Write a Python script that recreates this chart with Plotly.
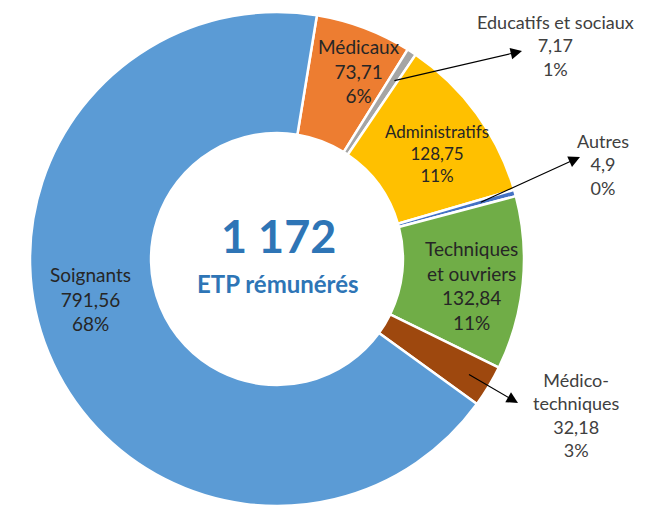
import math
import plotly.graph_objects as go

# ---- data ----
categories = ["Médicaux", "Educatifs et sociaux", "Administratifs", "Autres",
              "Techniques et ouvriers", "Médico-techniques", "Soignants"]
label_names = ["Médicaux", "Educatifs et sociaux", "Administratifs", "Autres",
               "Techniques<br>et ouvriers", "Médico-<br>techniques", "Soignants"]
values = [73.71, 7.17, 128.75, 4.9, 132.84, 32.18, 791.56]
total_label = "1 172"
center_sub = "ETP rémunérés"

colors = ["#ED7D31", "#A5A5A5", "#FFC000", "#4472C4", "#70AD47", "#9E480E", "#5B9BD5"]

# ---- layout constants ----
W, H = 653, 506
CX, CY, R = 277, 259, 247
HOLE = 0.51
ROT = 9.3
FONT = "Lato"


def px(x, y):
    return x / W, 1 - y / H


total = sum(values)
pcts = [v / total for v in values]


def fmt_num(v):
    return ("%g" % v).replace(".", ",")


def fmt_pct(p):
    return "%d%%" % round(p * 100)


fig = go.Figure(go.Pie(
    labels=categories, values=values, sort=False, direction="clockwise",
    rotation=ROT, hole=HOLE,
    marker=dict(colors=colors, line=dict(color="white", width=2.5)),
    textinfo="none", hoverinfo="label+value+percent",
    domain=dict(x=[(CX - R) / W, (CX + R) / W], y=[1 - (CY + R) / H, 1 - (CY - R) / H]),
    showlegend=False,
))

# label anchor positions (pixels) and font sizes
label_pos = {
    "Médicaux": (359, 71, 19, "#262626"),
    "Educatifs et sociaux": (555, 45, 18, "#404040"),
    "Administratifs": (437, 153, 17, "#262626"),
    "Autres": (603, 164, 18, "#404040"),
    "Techniques et ouvriers": (471, 285, 19, "#262626"),
    "Médico-techniques": (576, 415, 18, "#404040"),
    "Soignants": (90, 299, 19, "#262626"),
}

annotations = []
for cat, name, v, p in zip(categories, label_names, values, pcts):
    x, y, size, col = label_pos[cat]
    ax_, ay_ = px(x, y)
    annotations.append(dict(
        x=ax_, y=ay_, xref="paper", yref="paper", showarrow=False,
        text=f"{name}<br>{fmt_num(v)}<br>{fmt_pct(p)}",
        font=dict(family=FONT, size=size, color=col), align="center",
        xanchor="center", yanchor="middle",
    ))

# arrows from small slices to their outside labels
arrow_heads = {
    "Educatifs et sociaux": ((522, 51), 0.86),
    "Autres": ((580, 157), 0.85),
    "Médico-techniques": ((518, 403), 0.90),
}
cum = 0.0
for cat, v in zip(categories, values):
    mid = ROT + (cum + v / 2) / total * 360
    cum += v
    if cat in arrow_heads:
        (hx, hy), rf = arrow_heads[cat]
        tx = CX + rf * R * math.sin(math.radians(mid))
        ty = CY - rf * R * math.cos(math.radians(mid))
        hxp, hyp = px(hx, hy)
        annotations.append(dict(
            x=hxp, y=hyp, xref="paper", yref="paper", text="",
            showarrow=True, ax=tx - hx, ay=ty - hy, axref="pixel", ayref="pixel",
            arrowhead=2, arrowsize=1.9, arrowwidth=1.2, arrowcolor="#000000",
            standoff=0, startstandoff=0,
        ))

# center text
cx_p, _ = px(CX + 1, 0)
annotations.append(dict(x=cx_p, y=px(0, 236)[1], xref="paper", yref="paper", showarrow=False,
                        text=f"<b>{total_label}</b>", font=dict(family=FONT, size=45, color="#2E75B6"),
                        xanchor="center", yanchor="middle"))
annotations.append(dict(x=cx_p, y=px(0, 283)[1], xref="paper", yref="paper", showarrow=False,
                        text=f"<b>{center_sub}</b>", font=dict(family=FONT, size=24, color="#2E75B6"),
                        xanchor="center", yanchor="middle"))

fig.update_layout(
    width=W, height=H, margin=dict(l=0, r=0, t=0, b=0),
    paper_bgcolor="white", plot_bgcolor="white",
    annotations=annotations,
)
fig.write_html("out.html", config={"displayModeBar": False},
               post_script="document.body.style.margin='0px';document.body.style.overflow='hidden';")
